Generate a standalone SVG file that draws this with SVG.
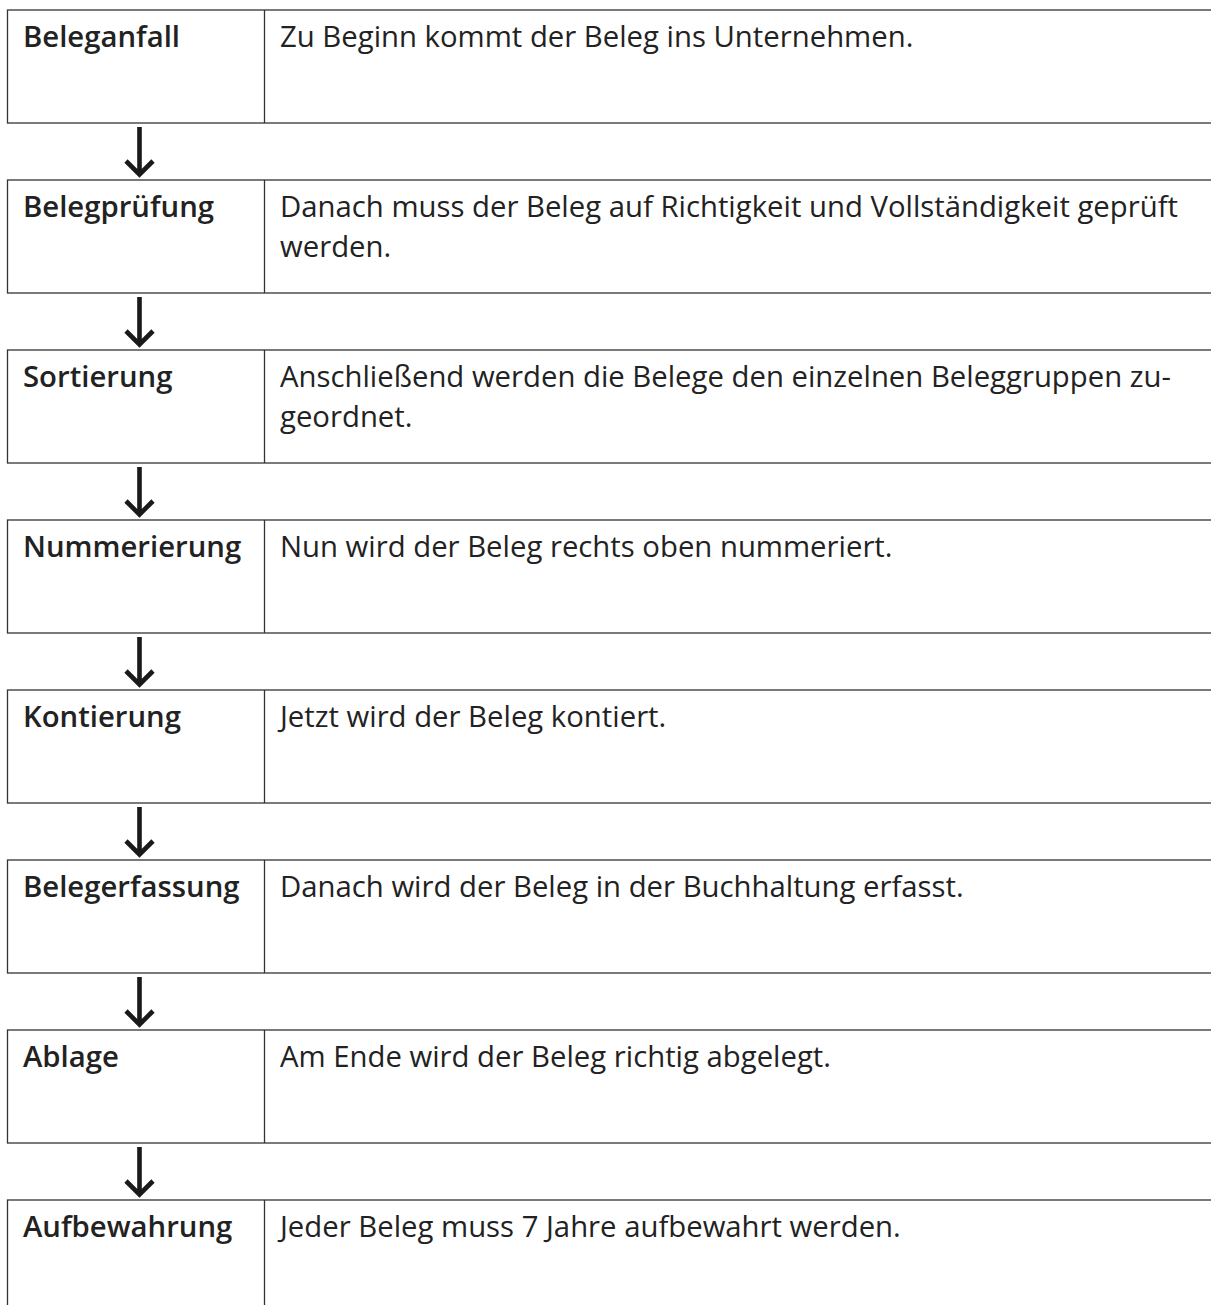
<svg xmlns="http://www.w3.org/2000/svg" width="1211" height="1305" viewBox="0 0 1211 1305">
<style>
.box{fill:#fff;stroke:#333;stroke-width:1.3}
.div{stroke:#333;stroke-width:1.3}
.lbl{font-family:"Open Sans","Noto Sans",sans-serif;font-weight:600;font-size:29.3px;fill:#222}
.txt{font-family:"Open Sans","Noto Sans",sans-serif;font-weight:400;font-size:29.3px;fill:#222}
.arr{fill:none;stroke:#1a1a1a;stroke-width:4.6}
</style>
<rect width="1211" height="1305" fill="#fff"/>
<g id="row1"><rect class="box" x="7.5" y="10" width="1220" height="113"/><line class="div" x1="264.5" y1="10" x2="264.5" y2="123"/><text class="lbl" x="23" y="47">Beleganfall</text><text class="txt" x="280" y="47">Zu Beginn kommt der Beleg ins Unternehmen.</text></g>
<g id="row2"><rect class="box" x="7.5" y="180" width="1220" height="113"/><line class="div" x1="264.5" y1="180" x2="264.5" y2="293"/><text class="lbl" x="23" y="217">Belegprüfung</text><text class="txt" x="280" y="217">Danach muss der Beleg auf Richtigkeit und Vollständigkeit geprüft</text><text class="txt" x="280" y="257">werden.</text></g>
<g id="row3"><rect class="box" x="7.5" y="350" width="1220" height="113"/><line class="div" x1="264.5" y1="350" x2="264.5" y2="463"/><text class="lbl" x="23" y="387">Sortierung</text><text class="txt" x="280" y="387">Anschließend werden die Belege den einzelnen Beleggruppen zu-</text><text class="txt" x="280" y="427">geordnet.</text></g>
<g id="row4"><rect class="box" x="7.5" y="520" width="1220" height="113"/><line class="div" x1="264.5" y1="520" x2="264.5" y2="633"/><text class="lbl" x="23" y="557">Nummerierung</text><text class="txt" x="280" y="557">Nun wird der Beleg rechts oben nummeriert.</text></g>
<g id="row5"><rect class="box" x="7.5" y="690" width="1220" height="113"/><line class="div" x1="264.5" y1="690" x2="264.5" y2="803"/><text class="lbl" x="23" y="727">Kontierung</text><text class="txt" x="280" y="727">Jetzt wird der Beleg kontiert.</text></g>
<g id="row6"><rect class="box" x="7.5" y="860" width="1220" height="113"/><line class="div" x1="264.5" y1="860" x2="264.5" y2="973"/><text class="lbl" x="23" y="897">Belegerfassung</text><text class="txt" x="280" y="897">Danach wird der Beleg in der Buchhaltung erfasst.</text></g>
<g id="row7"><rect class="box" x="7.5" y="1030" width="1220" height="113"/><line class="div" x1="264.5" y1="1030" x2="264.5" y2="1143"/><text class="lbl" x="23" y="1067">Ablage</text><text class="txt" x="280" y="1067">Am Ende wird der Beleg richtig abgelegt.</text></g>
<g id="row8"><rect class="box" x="7.5" y="1200" width="1220" height="130"/><line class="div" x1="264.5" y1="1200" x2="264.5" y2="1310"/><text class="lbl" x="23" y="1237">Aufbewahrung</text><text class="txt" x="280" y="1237">Jeder Beleg muss 7 Jahre aufbewahrt werden.</text></g>
<g id="connectors">
<path class="arr" d="M139.5 127V175M126 161L139.5 174.5L153 161"/>
<path class="arr" d="M139.5 297V345M126 331L139.5 344.5L153 331"/>
<path class="arr" d="M139.5 467V515M126 501L139.5 514.5L153 501"/>
<path class="arr" d="M139.5 637V685M126 671L139.5 684.5L153 671"/>
<path class="arr" d="M139.5 807V855M126 841L139.5 854.5L153 841"/>
<path class="arr" d="M139.5 977V1025M126 1011L139.5 1024.5L153 1011"/>
<path class="arr" d="M139.5 1147V1195M126 1181L139.5 1194.5L153 1181"/>
</g>
</svg>
